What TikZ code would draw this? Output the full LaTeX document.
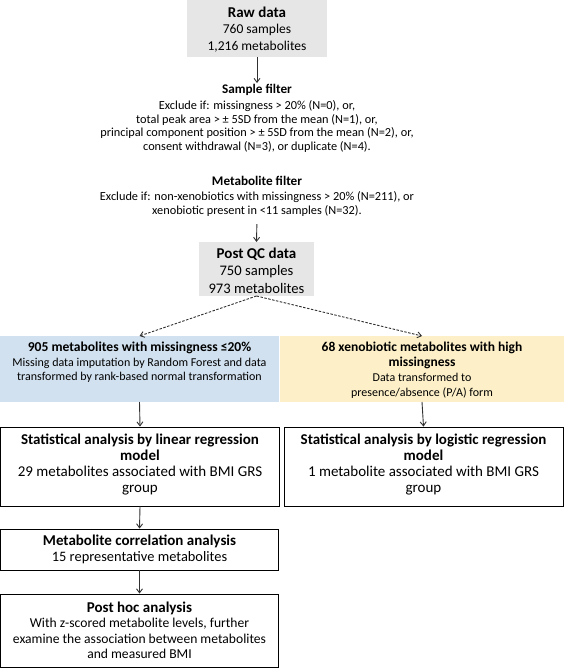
\documentclass[tikz,border=0pt]{standalone}
\usepackage{fontspec}
\setmainfont{Carlito}
\usetikzlibrary{arrows.meta}
\definecolor{graybox}{HTML}{E7E6E6}
\definecolor{bluebox}{HTML}{D2E1EF}
\definecolor{yellowbox}{HTML}{FDF0C8}
\definecolor{arrcol}{HTML}{303030}
\begin{document}
\begin{tikzpicture}[x=1pt,y=1pt,
  txt/.style={align=center, inner sep=1pt, text=black},
  panel/.style={inner sep=0pt, outer sep=0pt},
  whitebox/.style={draw=black, line width=0.9pt, fill=white, inner sep=0pt, align=center},
  conn/.style={draw=arrcol, line width=0.9pt, -{Straight Barb[length=4pt,width=6pt]}},
  dconn/.style={conn, dashed, dash pattern=on 2.5pt off 1.5pt}
]
\useasboundingbox (0,0) rectangle (564,-668);

% Raw data
\node[panel, fill=graybox, minimum width=140, minimum height=57] (raw) at (257,-28.5) {};
\node[txt, font=\fontsize{13.5}{16.5}\selectfont] (rawt) at (257,-29.5) {{\fontsize{15}{16.5}\selectfont\bfseries Raw data}\\760 samples\\1,216 metabolites};

% Sample filter
\node[txt, font=\fontsize{12.3}{13.8}\selectfont] (sf) at (257,-118.5) {{\fontsize{13.2}{13.8}\selectfont\bfseries Sample filter}\\[2pt]
Exclude if: missingness > 20\% (N=0), or,\\
total peak area > ± 5SD from the mean (N=1), or,\\
principal component position > ± 5SD from the mean (N=2), or,\\
consent withdrawal (N=3), or duplicate (N=4).};

% Metabolite filter
\node[txt, font=\fontsize{12.3}{14.2}\selectfont] (mf) at (257,-196.5) {{\fontsize{13.2}{14.2}\selectfont\bfseries Metabolite filter}\\[1pt]
Exclude if: non-xenobiotics with missingness > 20\% (N=211), or\\
xenobiotic present in <11 samples (N=32).};

% Post QC
\node[panel, fill=graybox, minimum width=115, minimum height=54] (qc) at (256.5,-269) {};
\node[txt, font=\fontsize{14.6}{17.5}\selectfont] (qct) at (256.5,-270.5) {{\fontsize{15}{17.5}\selectfont\bfseries Post QC data}\\750 samples\\973 metabolites};

% Blue panel
\node[panel, fill=bluebox, minimum width=279, minimum height=66] (blue) at (139.5,-369) {};
\node[txt, font=\fontsize{12}{14.5}\selectfont] (bluet) at (139.5,-362.5) {{\fontsize{13.6}{14.5}\selectfont\bfseries 905 metabolites with missingness ≤20\%}\\
Missing data imputation by Random Forest and data\\
transformed by rank-based normal transformation};

% Yellow panel
\node[panel, fill=yellowbox, minimum width=284, minimum height=66] (yel) at (422,-369) {};
\node[txt, font=\fontsize{12}{15}\selectfont] (yelt) at (422,-370.5) {{\fontsize{13.5}{15}\selectfont\bfseries 68 xenobiotic metabolites with high}\\{\fontsize{13.5}{15}\selectfont\bfseries missingness}\\
Data transformed to\\
presence/absence (P/A) form};

% Statistical boxes
\node[whitebox, minimum width=279, minimum height=79] (statl) at (140,-466.5) {};
\node[txt, font=\fontsize{15}{16}\selectfont] (statlt) at (140,-464.5)
 {{\bfseries Statistical analysis by linear regression}\\{\bfseries model}\\29 metabolites associated with BMI GRS\\group};
\node[whitebox, minimum width=279, minimum height=79] (statr) at (423.5,-466.5) {};
\node[txt, font=\fontsize{15}{16}\selectfont] (statrt) at (423.5,-464.5)
 {{\bfseries Statistical analysis by logistic regression}\\{\bfseries model}\\1 metabolite associated with BMI GRS\\group};

% Correlation
\node[whitebox, minimum width=278, minimum height=41, font=\fontsize{14.4}{16}\selectfont] (corr) at (139.5,-549.5)
 {{\fontsize{15}{16}\selectfont\bfseries Metabolite correlation analysis}\\15 representative metabolites};

% Post hoc
\node[whitebox, minimum width=278, minimum height=73, font=\fontsize{13.6}{15.5}\selectfont] (ph) at (139.5,-630.5)
 {{\fontsize{15}{15.5}\selectfont\bfseries Post hoc analysis}\\With z-scored metabolite levels, further\\examine the association between metabolites\\and measured BMI};

% Connectors
\draw[conn] (raw.south) -- (sf.north);
\draw[conn, shorten <=6pt] (mf.south) -- (qc.north);
\draw[dconn] (qc.south) -- (blue.north);
\draw[dconn] (qc.south) -- (yel.north);
\draw[conn] (blue.south) -- (statl.north);
\draw[conn] (yel.south) -- (statr.north);
\draw[conn] (statl.south) -- (corr.north);
\draw[conn] (corr.south) -- (ph.north);
\end{tikzpicture}
\end{document}
